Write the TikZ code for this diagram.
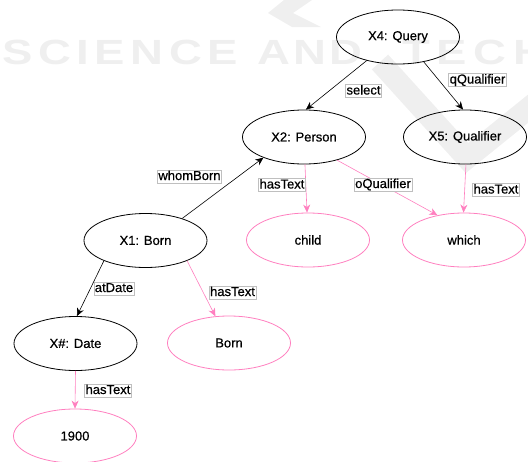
\documentclass[tikz,border=0pt]{standalone}
\usepackage{fontspec}
\setmainfont{Liberation Sans}
\newfontfamily\wmfont[FakeStretch=1.3]{Liberation Sans}
\newfontfamily\dfont[FakeBold=0.6]{Liberation Sans}
\usetikzlibrary{arrows.meta,shapes.geometric}
\definecolor{pinkc}{HTML}{FF7FBF}
\definecolor{wmgray}{HTML}{EFEFEF}
\tikzset{
  ent/.style={ellipse, draw=black, line width=0.8pt, minimum width=123pt, minimum height=54pt, inner sep=0pt, font=\dfont\fontsize{13}{15}\selectfont},
  lit/.style={ent, draw=pinkc},
  lbl/.style={draw=black!25, fill=white, line width=0.5pt, inner xsep=1pt, inner ysep=0.5pt, text height=9.5pt, text depth=2.5pt, font=\dfont\fontsize{13}{15}\selectfont},
  rel/.style={-{Stealth[length=8pt,width=7pt,inset=2.5pt]}, line width=0.6pt, draw=black},
  txt/.style={rel, draw=pinkc},
  wm/.style={anchor=west, inner sep=0pt, text=wmgray, font=\wmfont\bfseries\fontsize{35}{35}\selectfont}
}
\begin{document}
\begin{tikzpicture}[x=1pt,y=-1pt]
\useasboundingbox (0,0) rectangle (528,461);
\clip (0,0) rectangle (528,461);
% watermark
\fill[wmgray] (284,0) -- (312,0) -- (293,13) -- (321,27) -- (292,27) -- (268,13) -- cycle;
\draw[wmgray, line width=22pt, line join=miter] (380,62) -- (467,158) -- (545,95);
\node[wm] (wm1) at (2,52.5) {\makebox[236pt][s]{S\hfill C\hfill I\hfill E\hfill N\hfill C\hfill E}};
\node[wm] (wm2) at (257,52.5) {\makebox[105pt][s]{A\hfill N\hfill D}};
\node[wm] (wm3) at (402,52.5) {\makebox[144pt][s]{T\hfill E\hfill C\hfill H}};
% nodes
\node[ent] (x4) at (398,37) {X4: Query};
\node[ent] (x2) at (304,137) {X2: Person};
\node[ent] (x5) at (465,137) {X5: Qualifier};
\node[lit] (child) at (308,240) {child};
\node[lit] (which) at (464,240) {which};
\node[ent] (x1) at (145.5,240.5) {X1: Born};
\node[ent] (xd) at (75.5,343.5) {X\#: Date};
\node[lit] (born) at (229,343) {Born};
\node[lit] (y1900) at (75,436) {1900};
% edges
\draw[rel] (x4.217) -- (x2.86);
\draw[rel] (x4.316) -- (x5.94);
\draw[rel] (x1.31) -- (x2.207);
\draw[txt] (x2.272) -- (child.92);
\draw[txt] (x2.325) -- (which.137);
\draw[txt] (x5.272) -- (which.91);
\draw[rel] (x1.206) -- (xd.87);
\draw[txt] (x1.334) -- (born.117);
\draw[txt] (xd.270) -- (y1900.90);
% labels
\node[lbl] (l1) at (363.5,91) {select};
\node[lbl] (l2) at (477.5,80) {qQualifier};
\node[lbl] (l3) at (189.5,176.5) {whomBorn};
\node[lbl] (l4) at (282,185) {hasText};
\node[lbl] (l5) at (383,184.5) {oQualifier};
\node[lbl] (l6) at (496,190) {hasText};
\node[lbl] (l7) at (114,288.5) {atDate};
\node[lbl] (l8) at (232.5,292.5) {hasText};
\node[lbl] (l9) at (108,390.5) {hasText};
\end{tikzpicture}
\end{document}
